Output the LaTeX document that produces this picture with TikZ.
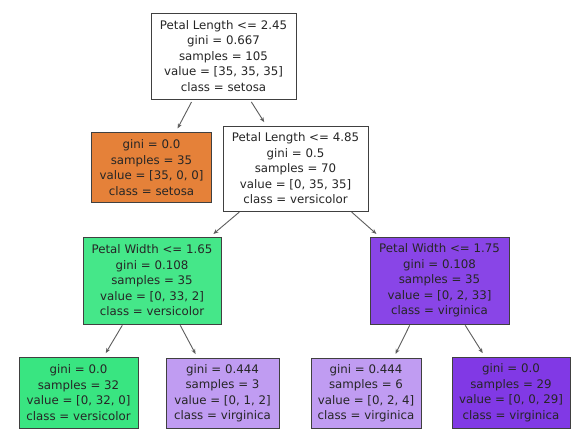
\documentclass[tikz,border=0pt]{standalone}
\usepackage{fontspec}
\setmainfont{DejaVu Sans}
\usetikzlibrary{calc,arrows.meta}
\definecolor{setosa}{HTML}{E58139}
\definecolor{versi}{HTML}{39E581}
\definecolor{versiA}{HTML}{45E789}
\definecolor{virg}{HTML}{8139E5}
\definecolor{virgA}{HTML}{8945E7}
\definecolor{virgL}{HTML}{C09CF2}
\definecolor{edgec}{HTML}{404040}
\tikzset{
  tnode/.style={draw=edgec, line width=0.9pt, rectangle, align=center, inner sep=0pt,
    font=\fontsize{11.8}{15.5}\selectfont, text=black!85},
  conn/.style={draw=edgec!85, line width=0.9pt, -{Stealth[length=5pt,width=4pt]}},
}
\begin{document}
\begin{tikzpicture}[x=1pt,y=1pt]
\useasboundingbox (0,0) rectangle (571,436);
\fill[white] (0,0) rectangle (571,436);
% root
\node[tnode, fill=white, minimum width=145pt, minimum height=86pt] (root) at (223.5,380)
  {Petal Length <= 2.45\\gini = 0.667\\samples = 105\\value = [35, 35, 35]\\class = setosa};
\node[tnode, fill=setosa, minimum width=120pt, minimum height=70pt] (setosa) at (151.5,268.5)
  {gini = 0.0\\samples = 35\\value = [35, 0, 0]\\class = setosa};
\node[tnode, fill=white, minimum width=145pt, minimum height=85pt] (n485) at (295.5,267.5)
  {Petal Length <= 4.85\\gini = 0.5\\samples = 70\\value = [0, 35, 35]\\class = versicolor};
\node[tnode, fill=versiA, minimum width=138pt, minimum height=87pt] (pw165) at (152,155.5)
  {Petal Width <= 1.65\\gini = 0.108\\samples = 35\\value = [0, 33, 2]\\class = versicolor};
\node[tnode, fill=virgA, minimum width=139pt, minimum height=87pt] (pw175) at (439.5,155.5)
  {Petal Width <= 1.75\\gini = 0.108\\samples = 35\\value = [0, 2, 33]\\class = virginica};
\node[tnode, fill=versi, minimum width=119pt, minimum height=71pt] (l1) at (78.5,43.5)
  {gini = 0.0\\samples = 32\\value = [0, 32, 0]\\class = versicolor};
\node[tnode, fill=virgL, minimum width=113pt, minimum height=70pt] (l2) at (222.5,43)
  {gini = 0.444\\samples = 3\\value = [0, 1, 2]\\class = virginica};
\node[tnode, fill=virgL, minimum width=110pt, minimum height=70pt] (l3) at (366,43)
  {gini = 0.444\\samples = 6\\value = [0, 2, 4]\\class = virginica};
\node[tnode, fill=virg, minimum width=118pt, minimum height=71pt] (l4) at (511,43.5)
  {gini = 0.0\\samples = 29\\value = [0, 0, 29]\\class = virginica};
% connectors
\draw[conn, shorten <=3pt, shorten >=4pt] ($(root.south west)!0.29!(root.south east)$) -- ($(setosa.north west)!0.70!(setosa.north east)$);
\draw[conn, shorten <=3pt, shorten >=4pt] ($(root.south west)!0.68!(root.south east)$) -- ($(n485.north west)!0.30!(n485.north east)$);
\draw[conn, shorten <=1pt, shorten >=4pt] ($(n485.south west)!0.12!(n485.south east)$) -- ($(pw165.north west)!0.92!(pw165.north east)$);
\draw[conn, shorten <=1pt, shorten >=4pt] ($(n485.south west)!0.88!(n485.south east)$) -- ($(pw175.north west)!0.07!(pw175.north east)$);
\draw[conn, shorten <=1pt, shorten >=4pt] ($(pw165.south west)!0.29!(pw165.south east)$) -- ($(l1.north west)!0.71!(l1.north east)$);
\draw[conn, shorten <=1pt, shorten >=4pt] ($(pw165.south west)!0.70!(pw165.south east)$) -- ($(l2.north west)!0.28!(l2.north east)$);
\draw[conn, shorten <=1pt, shorten >=4pt] ($(pw175.south west)!0.29!(pw175.south east)$) -- ($(l3.north west)!0.75!(l3.north east)$);
\draw[conn, shorten <=1pt, shorten >=4pt] ($(pw175.south west)!0.68!(pw175.south east)$) -- ($(l4.north west)!0.28!(l4.north east)$);
\end{tikzpicture}
\end{document}
